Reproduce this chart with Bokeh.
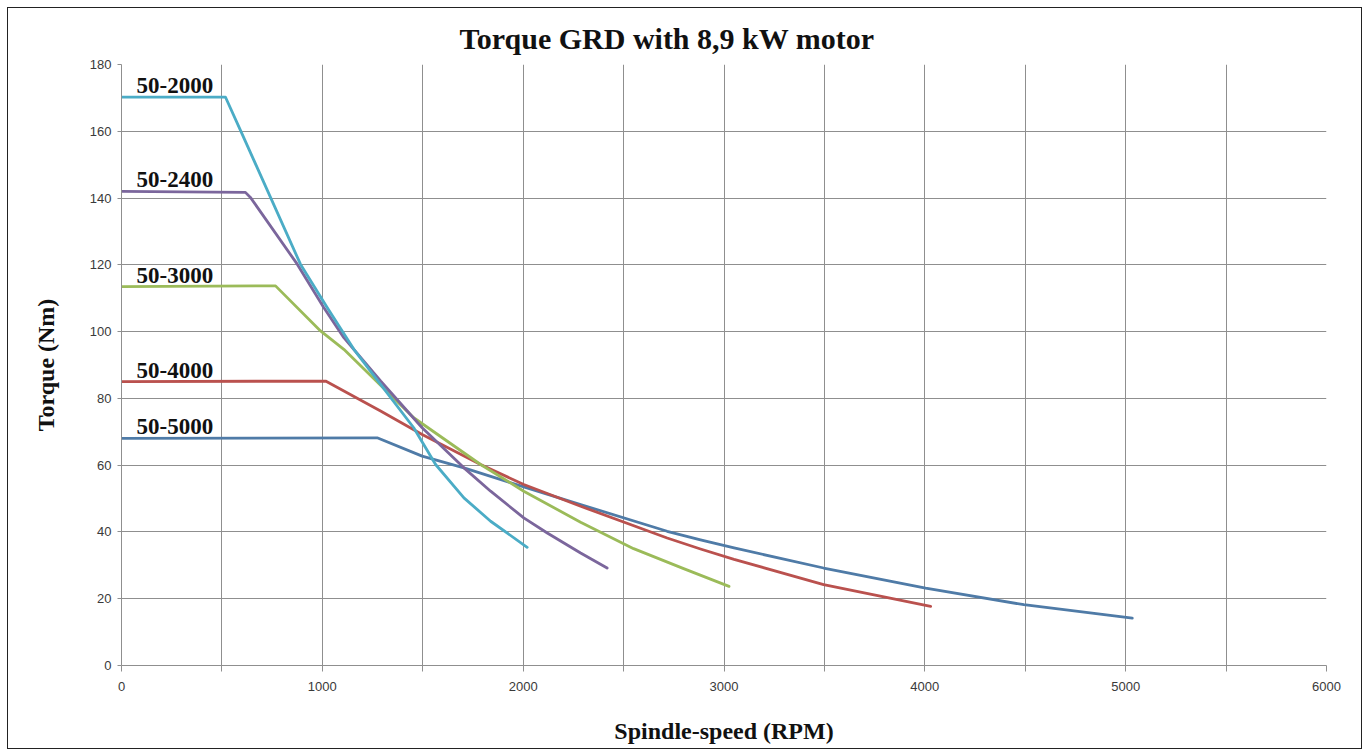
from bokeh.plotting import figure
from bokeh.models import Range1d, FixedTicker
from bokeh.core.properties import value
from bokeh.embed import file_html
from bokeh.resources import INLINE

# ---- data ----
title_text = "Torque GRD with 8,9 kW motor"
x_label = "Spindle-speed (RPM)"
y_label = "Torque (Nm)"

names = ["50-5000", "50-4000", "50-3000", "50-2400", "50-2000"]

rpm_5000 = [0, 1273, 1497, 1705, 2003, 2286, 2717, 2883, 3050, 3496, 4004, 4493, 5033]
nm_5000 = [68, 68.2, 62.7, 59.2, 53.5, 48.2, 40.2, 37.6, 35.2, 29.2, 23.2, 18.2, 14.2]

rpm_4000 = [0, 1016, 1290, 1497, 1788, 2003, 2286, 2717, 2883, 3050, 3496, 4029]
nm_4000 = [85, 85.2, 76.2, 69.2, 60.2, 54.2, 47.7, 38.2, 34.9, 31.8, 24.2, 17.7]

rpm_3000 = [0, 767, 991, 1107, 1455, 1788, 2003, 2286, 2550, 2799, 3025]
nm_3000 = [113.5, 113.7, 100.2, 94.7, 74.2, 60.2, 52.2, 42.9, 35.0, 29.0, 23.7]

rpm_2400 = [0, 617, 642, 875, 1007, 1107, 1290, 1497, 1705, 1838, 2003, 2120, 2286, 2418]
nm_2400 = [142, 141.7, 140.2, 120.2, 107.2, 98.2, 85.2, 71.2, 59.2, 52.2, 44.2, 39.7, 33.7, 29.2]

rpm_2000 = [0, 518, 593, 742, 891, 1024, 1157, 1290, 1455, 1564, 1705, 1838, 2020]
nm_2000 = [170.2, 170.2, 160.2, 140.2, 120.2, 107.2, 94.7, 84.2, 71.2, 60.2, 50.2, 43.2, 35.4]

x_ticks = [0, 500, 1000, 1500, 2000, 2500, 3000, 3500, 4000, 4500, 5000, 5500, 6000]
x_tick_labels = ["0", "", "1000", "", "2000", "", "3000", "", "4000", "", "5000", "", "6000"]
y_ticks = [0, 20, 40, 60, 80, 100, 120, 140, 160, 180]

series_x = [rpm_5000, rpm_4000, rpm_3000, rpm_2400, rpm_2000]
series_y = [nm_5000, nm_4000, nm_3000, nm_2400, nm_2000]
colors = ["#4F7BA7", "#BA514E", "#9BBB59", "#7B669C", "#4BACC6"]

SERIF = "Liberation Serif"
SANS = "Liberation Sans"
GRID = "#8F8F8F"

p = figure(width=1353, height=740, output_backend="svg", toolbar_location=None,
           x_range=Range1d(0, 6000), y_range=Range1d(0, 180),
           min_border_left=113, min_border_right=37, min_border_top=56,
           min_border_bottom=85)

p.styles = {"border": "1.5px solid #222", "box-sizing": "content-box",
            "margin": "7px 0 0 7px"}
p.outline_line_color = None
p.background_fill_color = "white"
p.border_fill_color = "white"

p.title.text = title_text
p.title.text_font = SERIF
p.title.text_font_style = "bold"
p.title.text_font_size = "30px"
p.title.text_color = "#111"
p.title.align = "left"
p.title.offset = 338
p.title.standoff = 20

p.xaxis.ticker = FixedTicker(ticks=x_ticks)
p.xaxis.major_label_overrides = {t: l for t, l in zip(x_ticks, x_tick_labels)}
p.yaxis.ticker = FixedTicker(ticks=y_ticks)
p.xgrid.ticker = FixedTicker(ticks=x_ticks)
p.ygrid.ticker = FixedTicker(ticks=y_ticks)

for ax in (p.xaxis[0], p.yaxis[0]):
    ax.axis_line_color = GRID
    ax.major_tick_line_color = GRID
    ax.minor_tick_line_color = None
    ax.major_tick_in = 0
    ax.major_label_text_font = SANS
    ax.major_label_text_font_size = "13px"
    ax.major_label_text_color = "#3a3a3a"
    ax.axis_label_text_font = SERIF
    ax.axis_label_text_font_style = "bold"
    ax.axis_label_text_font_size = "24px"
    ax.axis_label_text_color = "#111"

p.xaxis.major_tick_out = 6
p.yaxis.major_tick_out = 4
p.xaxis.major_label_standoff = 10
p.yaxis.major_label_standoff = 6
p.xaxis.axis_label = x_label
p.yaxis.axis_label = y_label
p.xaxis.axis_label_standoff = 24
p.yaxis.axis_label_standoff = 28

p.xgrid.grid_line_color = GRID
p.ygrid.grid_line_color = GRID
p.xgrid.grid_line_width = 1
p.ygrid.grid_line_width = 1

for xs, ys, c in zip(series_x, series_y, colors):
    p.line(xs, ys, line_color=c, line_width=2.8, line_join="round", line_cap="round")

label_x = [75] * len(names)
label_y = [ys[0] for ys in series_y]
p.text(x=label_x, y=label_y, text=names, text_font=value(SERIF),
       text_font_style="bold", text_font_size="23px", text_color="#111",
       text_baseline="bottom", text_align="left", y_offset=-4)

open("out.html", "w").write(file_html(p, INLINE))
